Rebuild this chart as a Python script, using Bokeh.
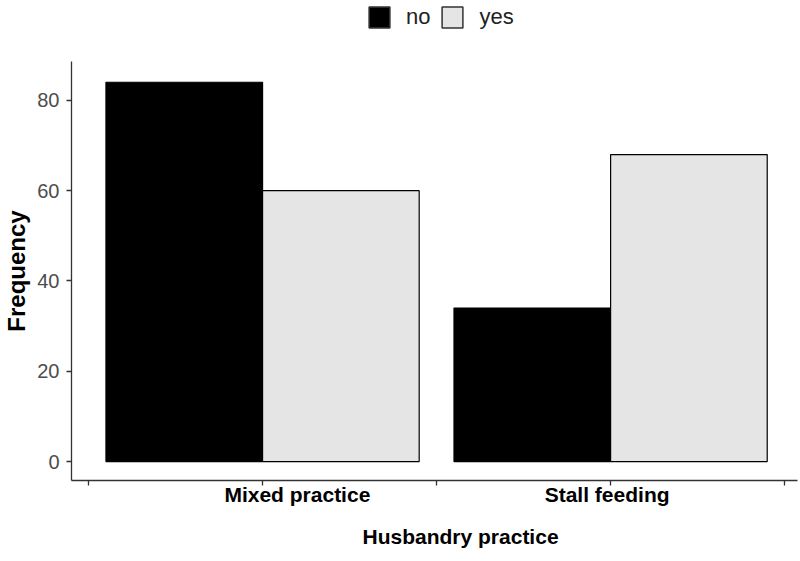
from bokeh.plotting import figure
from bokeh.models import (ColumnDataSource, Range1d, LinearAxis, FixedTicker,
                          Legend, LegendItem, Title)
from bokeh.layouts import column
from bokeh.embed import file_html
from bokeh.resources import INLINE

categories = ["Mixed practice", "Stall feeding"]
no_counts = [84, 34]
yes_counts = [60, 68]
y_ticks = [0, 20, 40, 60, 80]
legend_labels = ["no", "yes"]

bar_w = 0.45
pos = [i + 1 for i in range(len(categories))]

src_no = ColumnDataSource(dict(x=[p_ - bar_w / 2 for p_ in pos], top=no_counts))
src_yes = ColumnDataSource(dict(x=[p_ + bar_w / 2 for p_ in pos], top=yes_counts))

FONT = "Liberation Sans"
NO_COLOR = "black"
YES_COLOR = "#e5e5e5"

# ---------------- legend strip ----------------
# hidden copies of the bars, only used to draw the legend swatches
lf = figure(width=798, height=30, output_backend="svg", toolbar_location=None,
            x_range=Range1d(-11, -10), y_range=Range1d(200, 201),
            x_axis_type=None, y_axis_type=None,
            min_border_left=0, min_border_right=0, min_border_top=0, min_border_bottom=0)
lf.outline_line_color = None
lf.xgrid.visible = False
lf.ygrid.visible = False
l_no = lf.vbar(x="x", top="top", width=bar_w, source=src_no,
               fill_color=NO_COLOR, line_color="#333333", line_width=1.5)
l_yes = lf.vbar(x="x", top="top", width=bar_w, source=src_yes,
                fill_color=YES_COLOR, line_color="#333333", line_width=1.5)
l_no.visible = False
l_yes.visible = False
legend = Legend(items=[LegendItem(label=legend_labels[0], renderers=[l_no]),
                       LegendItem(label=legend_labels[1], renderers=[l_yes])],
                orientation="horizontal", location=(295, 0), click_policy="none")
legend.label_text_font = FONT
legend.label_text_font_size = "22px"
legend.label_text_color = "#222222"
legend.glyph_width = 26
legend.glyph_height = 26
legend.spacing = 9
legend.label_standoff = 14
legend.border_line_color = None
legend.background_fill_alpha = 0
legend.padding = 0
legend.margin = 0
lf.add_layout(legend, "center")

# ---------------- main plot ----------------
p = figure(width=798, height=531, output_backend="svg", toolbar_location=None,
           x_range=Range1d(0.451, 2.537), y_range=Range1d(-4.18, 88.6),
           x_axis_type=None, y_axis_type=None,
           min_border_left=71, min_border_right=1, min_border_top=31, min_border_bottom=75)
p.outline_line_color = None
p.xgrid.visible = False
p.ygrid.visible = False

p.vbar(x="x", top="top", bottom=0, width=bar_w, source=src_no,
       fill_color=NO_COLOR, line_color="black", line_width=1.2)
p.vbar(x="x", top="top", bottom=0, width=bar_w, source=src_yes,
       fill_color=YES_COLOR, line_color="black", line_width=1.2)

# y axis
yax = LinearAxis(ticker=FixedTicker(ticks=y_ticks), axis_label="Frequency")
yax.axis_line_color = "#333333"
yax.axis_line_width = 1.3
yax.major_tick_line_color = "#333333"
yax.major_tick_line_width = 1.3
yax.major_tick_in = 0
yax.major_tick_out = 5
yax.minor_tick_line_color = None
yax.major_label_text_font = FONT
yax.major_label_text_font_size = "20px"
yax.major_label_text_color = "#4d4d4d"
yax.major_label_standoff = 7
yax.axis_label_text_font = FONT
yax.axis_label_text_font_size = "24px"
yax.axis_label_text_font_style = "bold"
yax.axis_label_text_color = "black"
yax.axis_label_standoff = 4
p.add_layout(yax, "left")

# x axis line with ticks
half_ticks = [0.5, 1.0, 1.5, 2.0, 2.5]
xax = LinearAxis(ticker=FixedTicker(ticks=half_ticks))
xax.axis_line_color = "#333333"
xax.axis_line_width = 1.3
xax.major_tick_line_color = "#333333"
xax.major_tick_line_width = 1.3
xax.major_tick_in = 0
xax.major_tick_out = 5
xax.minor_tick_line_color = None
xax.major_label_overrides = {t: "" for t in half_ticks}
xax.major_label_text_font_size = "1px"
xax.major_label_standoff = 0
p.add_layout(xax, "below")

# category labels
lab_pos = [1.10, 1.99]
cax = LinearAxis(ticker=FixedTicker(ticks=lab_pos))
cax.major_label_overrides = {lp: c for lp, c in zip(lab_pos, categories)}
cax.axis_line_color = None
cax.major_tick_line_color = None
cax.minor_tick_line_color = None
cax.major_label_text_font = FONT
cax.major_label_text_font_size = "21px"
cax.major_label_text_font_style = "bold"
cax.major_label_text_color = "black"
cax.major_label_standoff = -9
p.add_layout(cax, "below")

xtitle = Title(text="Husbandry practice", align="left", offset=291, standoff=28,
               text_font=FONT, text_font_size="21px", text_font_style="bold",
               text_color="black")
p.add_layout(xtitle, "below")

open("out.html", "w").write(file_html(column(lf, p), INLINE))
